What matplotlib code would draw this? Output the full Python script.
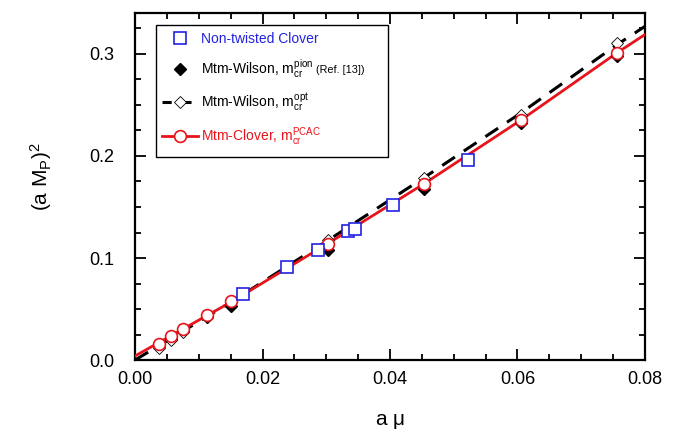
import numpy as np
import matplotlib
matplotlib.use("Agg")
import matplotlib.pyplot as plt
from matplotlib.lines import Line2D
from matplotlib.patches import Rectangle
from matplotlib.ticker import MultipleLocator, FormatStrFormatter

plt.rcParams['font.family'] = ['Liberation Sans', 'DejaVu Sans']
plt.rcParams['mathtext.fontset'] = 'custom'
plt.rcParams['mathtext.rm'] = 'Liberation Sans'
plt.rcParams['mathtext.it'] = 'Liberation Sans'

# non-twisted clover
mu_clover0 = [0.0170, 0.0238, 0.0287, 0.0334, 0.0345, 0.0404, 0.0523]
mp2_clover0 = [0.065, 0.091, 0.108, 0.126, 0.128, 0.152, 0.196]

# twisted mass runs share the same mu values
mu_tm = [0.0038, 0.0056, 0.0075, 0.0113, 0.0151, 0.0302, 0.0454, 0.0605, 0.0756]
mp2_wilson_pion = [0.014, 0.021, 0.028, 0.042, 0.053, 0.108, 0.168, 0.232, 0.298]
mp2_wilson_opt = [0.012, 0.020, 0.027, 0.043, 0.058, 0.118, 0.178, 0.240, 0.311]
mp2_clover_pcac = [0.016, 0.0236, 0.0305, 0.0443, 0.058, 0.114, 0.173, 0.235, 0.301]

# fit curves
mu_fit = [0.0, 0.0151, 0.0302, 0.0454, 0.0605, 0.0756, 0.08]
fit_wilson_opt = [0.0, 0.057, 0.117, 0.179, 0.242, 0.309, 0.327]
fit_clover_pcac = [0.004, 0.057, 0.114, 0.173, 0.235, 0.301, 0.319]

RED = '#e8141b'
BLUE = '#2222e0'

fig = plt.figure(figsize=(6.89, 4.38), dpi=100)
ax = fig.add_axes([0.196, 0.178, 0.740, 0.792])

ax.plot(mu_fit, fit_wilson_opt, color='k', ls=(0, (5, 3.5)), lw=2.2, zorder=2)
ax.plot(mu_fit, fit_clover_pcac, color=RED, lw=2.0, zorder=3)

ax.plot(mu_tm, mp2_wilson_pion, ls='none', marker='D', ms=6.5, color='k', zorder=4)
ax.plot(mu_tm, mp2_wilson_opt, ls='none', marker='D', ms=6.5, mfc='white', mec='k',
        mew=0.6, zorder=4)
ax.plot(mu_tm, mp2_clover_pcac, ls='none', marker='o', ms=8.5, mfc='white', mec=RED,
        mew=1.2, zorder=5)
ax.plot(mu_clover0, mp2_clover0, ls='none', marker='s', ms=9, mfc='white', mec=BLUE,
        mew=1.2, zorder=6)

ax.set_xlim(0, 0.08)
ax.set_ylim(0, 0.34)
ax.xaxis.set_major_locator(MultipleLocator(0.02))
ax.xaxis.set_minor_locator(MultipleLocator(0.005))
ax.yaxis.set_major_locator(MultipleLocator(0.1))
ax.yaxis.set_minor_locator(MultipleLocator(0.025))
ax.xaxis.set_major_formatter(FormatStrFormatter('%.2f'))
ax.yaxis.set_major_formatter(FormatStrFormatter('%.1f'))
ax.tick_params(which='both', direction='in', top=True, right=True, labelsize=13, width=1.3)
ax.tick_params(which='major', length=8)
ax.tick_params(which='minor', length=4)
ax.tick_params(axis='x', which='major', pad=8)
ax.tick_params(axis='y', which='major', pad=15)
for sp in ax.spines.values():
    sp.set_linewidth(1.6)

ax.set_xlabel(r'a $\mathrm{\mu}$', fontsize=15)
ax.set_ylabel(r'(a M$_{\rm P}$)$^2$', fontsize=15)
ax.xaxis.set_label_coords(0.5, -0.15)
ax.yaxis.set_label_coords(-0.158, 0.53)

handles = [
    Line2D([], [], ls='none', marker='s', ms=9, mfc='white', mec=BLUE, mew=1.2),
    Line2D([], [], ls='none', marker='D', ms=6.5, color='k'),
    Line2D([], [], color='k', ls=(0, (3, 3.5)), lw=2.2, marker='D', ms=6.5, mfc='white',
           mec='k', mew=0.6),
    Line2D([], [], color=RED, lw=2.0, marker='o', ms=8.5, mfc='white', mec=RED, mew=1.2),
]
labels = [
    'Non-twisted Clover',
    r'Mtm-Wilson, m$_{\rm cr}^{\rm pion}$',
    r'Mtm-Wilson, m$_{\rm cr}^{\rm opt}$',
    r'Mtm-Clover, m$_{\rm cr}^{\rm PCAC}$',
]
leg = ax.legend(handles, labels, loc='upper left', bbox_to_anchor=(0.041, 0.965),
                fontsize=10, frameon=False, handlelength=2.6, handletextpad=0.2,
                labelspacing=0.85, borderpad=0.45, borderaxespad=0,
                labelcolor=[BLUE, 'k', 'k', RED])
leg.set_zorder(10)

# reference note after the pion entry, then a frame wide enough for it
fig.canvas.draw()
renderer = fig.canvas.get_renderer()
txt = leg.get_texts()[1]
bb = txt.get_window_extent(renderer)
x_txt, y_txt = txt.get_transform().transform(txt.get_position())
note = ax.text(bb.x1 + 3, y_txt, '(Ref. [13])', transform=None,
               fontsize=7.8, ha='left', va='baseline', zorder=11)
nb = note.get_window_extent(renderer)
lb = leg.get_window_extent(renderer)
frame = Rectangle((lb.x0, lb.y0 - 3), nb.x1 + 23 - lb.x0, lb.height + 3, transform=None,
                  facecolor='white', edgecolor='k', lw=1.0, zorder=9, clip_on=False)
ax.add_artist(frame)

fig.savefig('out.png', dpi=100)
